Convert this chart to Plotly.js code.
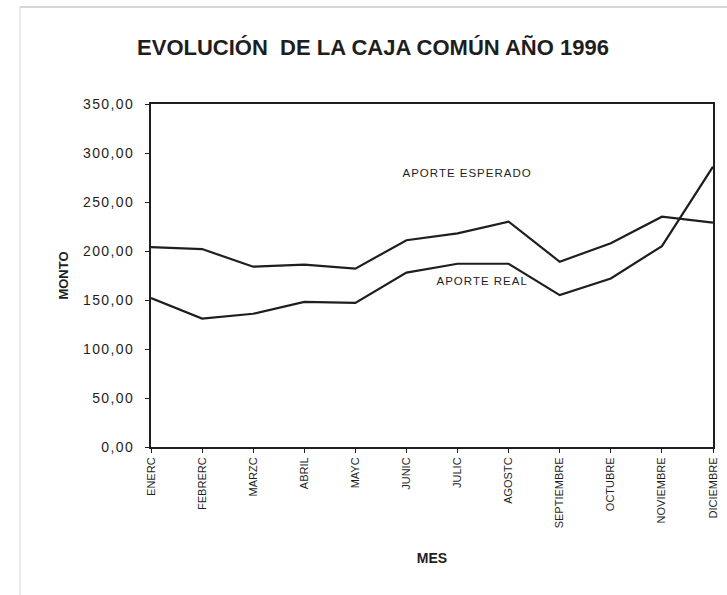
<!DOCTYPE html>
<html>
<head>
<meta charset="utf-8">
<script src="https://cdn.plot.ly/plotly-3.0.1.min.js"></script>
<style>
  html, body { margin: 0; padding: 0; background: #fff; }
  #chart { width: 727px; height: 595px; }
  /* the scan's y tick numbers and line labels are widely spaced */
  #chart .ytick text { letter-spacing: 1.4px; }
  #chart .annotation-text { letter-spacing: 1px; }
</style>
</head>
<body>
<div id="chart"></div>
<script>
// ── Data ──────────────────────────────────────────────────────
const MESES = ["ENERC", "FEBRERC", "MARZC", "ABRIL", "MAYC", "JUNIC",
               "JULIC", "AGOSTC", "SEPTIEMBRE", "OCTUBRE", "NOVIEMBRE", "DICIEMBRE"];
const APORTE_ESPERADO = [204, 202, 184, 186, 182, 211, 218, 230, 189, 208, 235, 229];
const APORTE_REAL     = [152, 131, 136, 148, 147, 178, 187, 187, 155, 172, 205, 286];
const Y_TICKS = [0, 50, 100, 150, 200, 250, 300, 350];

const INK = "#1e1e1e";

const traces = [
  {
    name: "APORTE ESPERADO",
    x: MESES,
    y: APORTE_ESPERADO,
    type: "scatter",
    mode: "lines",
    line: { color: INK, width: 2.2 },
  },
  {
    name: "APORTE REAL",
    x: MESES,
    y: APORTE_REAL,
    type: "scatter",
    mode: "lines",
    line: { color: INK, width: 2.2 },
  },
];

// scanned page edge (light grey, outside the plot area)
const pageEdge = [
  { type: "line", xref: "paper", yref: "paper",
    x0: (20 - 151) / 562, x1: 1.03, y0: (447 - 7) / 343, y1: (447 - 7) / 343,
    line: { color: "#c8c8c8", width: 1.5 } },
  { type: "line", xref: "paper", yref: "paper",
    x0: (20 - 151) / 562, x1: (20 - 151) / 562, y0: (447 - 595) / 343, y1: (447 - 7) / 343,
    line: { color: "#d4d4d4", width: 1 } },
];

const layout = {
  width: 727,
  height: 595,
  margin: { l: 151, r: 14, t: 104, b: 148 },
  paper_bgcolor: "#fff",
  plot_bgcolor: "#fff",
  showlegend: false,
  separators: ", ",
  font: { family: "Liberation Sans, Arial, sans-serif", color: INK },
  title: {
    text: "<b>EVOLUCIÓN  DE LA CAJA COMÚN AÑO 1996</b>",
    font: { size: 22, color: INK },
    x: 373 / 727,
    xref: "container",
    xanchor: "center",
    y: 0.921,
    yanchor: "middle",
  },
  xaxis: {
    type: "category",
    range: [0, 11],
    tickangle: -90,
    tickfont: { size: 11 },
    ticks: "outside",
    ticklen: 4,
    tickcolor: INK,
    showgrid: false,
    zeroline: false,
    showline: true,
    mirror: true,
    linecolor: INK,
    linewidth: 2,
    title: { text: "<b>MES</b>", font: { size: 14 }, standoff: 26 },
  },
  yaxis: {
    range: [0, 350],
    tickvals: Y_TICKS,
    tickformat: ".2f",
    tickfont: { size: 14 },
    ticks: "outside",
    ticklen: 4,
    tickcolor: INK,
    ticklabelstandoff: 8,
    showgrid: false,
    zeroline: false,
    showline: true,
    mirror: true,
    linecolor: INK,
    linewidth: 2,
    title: { text: "<b>MONTO</b>", font: { size: 13 }, standoff: 20 },
  },
  shapes: pageEdge,
  annotations: [
    { x: 6.18, y: 280, xref: "x", yref: "y", text: "APORTE ESPERADO",
      showarrow: false, font: { size: 11.5, color: INK } },
    { x: 6.48, y: 169, xref: "x", yref: "y", text: "APORTE REAL",
      showarrow: false, font: { size: 11.5, color: INK } },
  ],
};

Plotly.newPlot("chart", traces, layout, { staticPlot: true, displayModeBar: false });
</script>
</body>
</html>
